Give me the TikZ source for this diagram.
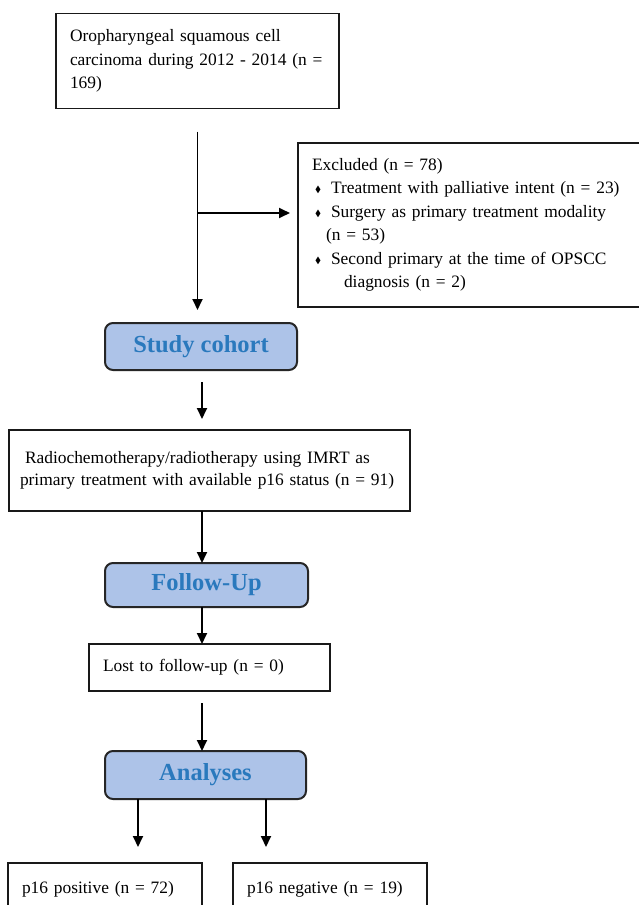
\documentclass[tikz,border=0pt]{standalone}
\usepackage{fontspec}
\setmainfont{Liberation Serif}
\usepackage{amssymb}
\usetikzlibrary{arrows.meta}
\definecolor{boxblue}{HTML}{ADC3E8}
\definecolor{txtblue}{HTML}{2A79BD}
\newcommand{\dia}{\makebox[6pt]{\raisebox{1pt}{\fontsize{9}{9}\selectfont$\blacklozenge$}}}
\begin{document}
\begin{tikzpicture}[x=1pt,y=1pt,
 every node/.style={inner sep=0pt, outer sep=0pt},
 plainbox/.style={draw=black!90, line width=1.9pt, rectangle, anchor=north west, align=left,
   font=\fontsize{17.4}{23.5}\selectfont, inner xsep=14pt},
 bluebox/.style={draw=black!85, line width=2pt, fill=boxblue, rounded corners=8pt,
   anchor=north west, font=\fontsize{24.5}{26}\selectfont\bfseries, text=txtblue, align=center},
 arr/.style={line width=1.8pt, -{Triangle[length=11pt,width=10pt]}}]
\clip (0,0) rectangle (639,-905);
\fill[white] (0,0) rectangle (639,-905);

\node[plainbox, minimum width=283, minimum height=95, text width=255] (top) at (56,-13.5)
  {\mbox{Oropharyngeal squamous cell}\\\mbox{carcinoma during 2012 - 2014 (n =}\\\mbox{169)}};

\node[plainbox, minimum width=368, minimum height=164, text width=340] (excl) at (298,-143)
  {\mbox{Excluded (n = 78)}\\
   \mbox{\hspace*{3pt}\dia\hspace*{10pt}Treatment with palliative intent (n = 23)}\\
   \mbox{\hspace*{3pt}\dia\hspace*{10pt}Surgery as primary treatment modality}\\
   \mbox{\hspace*{14pt}(n = 53)}\\
   \mbox{\hspace*{3pt}\dia\hspace*{10pt}Second primary at the time of OPSCC}\\
   \mbox{\hspace*{32pt}diagnosis (n = 2)}};

\node[bluebox, minimum width=192, minimum height=47] (study) at (105,-323) {Study cohort};

\node[plainbox, minimum width=401, minimum height=81, text width=379, inner xsep=11pt,
  font=\fontsize{17.4}{22.5}\selectfont] (radio) at (9,-430)
  {\mbox{\hspace*{5pt}Radiochemotherapy/radiotherapy using IMRT as}\\\mbox{primary treatment with available p16 status (n = 91)}};

\node[bluebox, minimum width=203, minimum height=44] (follow) at (105,-563) {Follow-Up};

\node[plainbox, minimum width=241, minimum height=47, text width=213] (lost) at (89,-644)
  {Lost to follow-up (n = 0)};

\node[bluebox, minimum width=201, minimum height=48] (analyses) at (105,-751) {Analyses};

\node[plainbox, minimum width=194, minimum height=52, text width=166] (pos) at (8,-863)
  {p16 positive (n = 72)};
\node[plainbox, minimum width=194, minimum height=52, text width=166] (neg) at (233,-863)
  {p16 negative (n = 19)};

\coordinate (sx) at (202,0);
\coordinate (px) at (138,0);
\coordinate (nx) at (266,0);
\coordinate (br) at (197.5,-213);

\draw[arr, shorten <=23pt, shorten >=13pt] (top.south) -- (top.south |- study.north);
\draw[arr, shorten >=8pt] (br) -- (br -| excl.west);
\draw[arr, shorten <=12pt, shorten >=11pt] (sx |- study.south) -- (sx |- radio.north);
\draw[arr] (sx |- radio.south) -- (sx |- follow.north);
\draw[arr] (sx |- follow.south) -- (sx |- lost.north);
\draw[arr, shorten <=12pt] (sx |- lost.south) -- (sx |- analyses.north);
\draw[arr, shorten >=16pt] (px |- analyses.south) -- (px |- pos.north);
\draw[arr, shorten >=16pt] (nx |- analyses.south) -- (nx |- neg.north);
\end{tikzpicture}
\end{document}
